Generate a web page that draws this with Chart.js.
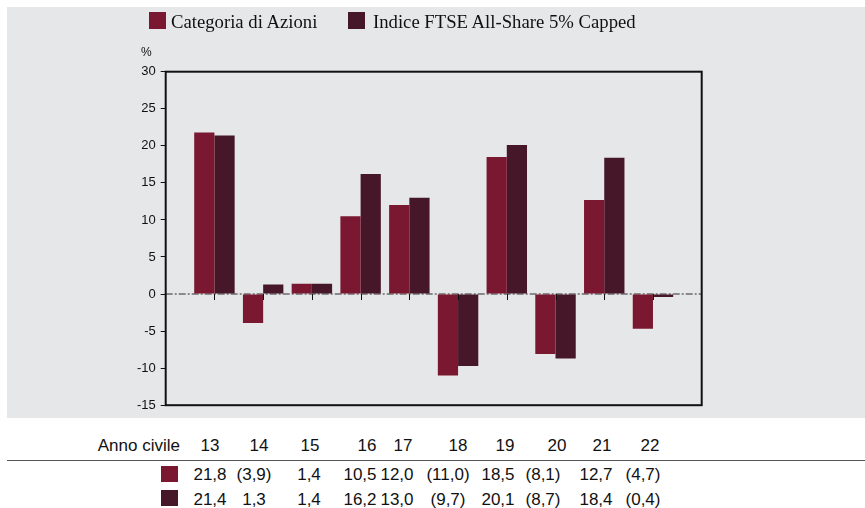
<!DOCTYPE html>
<html>
<head>
<meta charset="utf-8">
<script src="https://cdn.jsdelivr.net/npm/chart.js@4/dist/chart.umd.min.js"></script>
<style>
  body { margin: 0; background: #fff; width: 865px; height: 508px; position: relative; overflow: hidden; font-family: "Liberation Sans", Arial, sans-serif; }
  .panel { position: absolute; left: 7px; top: 7px; width: 858px; height: 411px; background: #e6e7e8; }
  .panel canvas { position: absolute; left: 0; top: 0; }
  .lg { position: absolute; font-family: "Liberation Serif", "Times New Roman", serif; font-size: 18.7px; line-height: 19px; color: #111; white-space: nowrap; }
  .sw { position: absolute; width: 17px; height: 17px; }
  .t { position: absolute; font-size: 17px; line-height: 17px; color: #111; white-space: nowrap; }
  .c { transform: translateX(-50%); }
  .rule { position: absolute; left: 7px; width: 858px; top: 460px; height: 1px; background: #555; }
</style>
</head>
<body>
<div class="panel"><canvas id="Chart" width="858" height="411"></canvas></div>
<div id="legend"></div>
<div class="t" style="left:141px; top:46px; font-size:12px; line-height:12px;">%</div>
<div id="table"></div>
<div class="rule"></div>

<script>
"use strict";

// data
var years = [13, 14, 15, 16, 17, 18, 19, 20, 21, 22];
var categoria = [21.8, -3.9, 1.4, 10.5, 12.0, -11.0, 18.5, -8.1, 12.7, -4.7];
var indice = [21.4, 1.3, 1.4, 16.2, 13.0, -9.7, 20.1, -8.7, 18.4, -0.4];
var seriesNames = ['Categoria di Azioni', 'Indice FTSE All-Share 5% Capped'];
var yTicks = [-15, -10, -5, 0, 5, 10, 15, 20, 25, 30];

var colors = ['#7b1831', '#451729'];

function fmt(v) {
  var s = Math.abs(v).toFixed(1).replace('.', ',');
  return v < 0 ? '(' + s + ')' : s;
}

// legend (html)
(function () {
  var lg = document.getElementById('legend');
  var items = [{ box: 149, text: 171 }, { box: 348, text: 373 }];
  items.forEach(function (it, i) {
    var sw = document.createElement('div');
    sw.className = 'sw';
    sw.style.left = it.box + 'px';
    sw.style.top = '12px';
    sw.style.background = colors[i];
    lg.appendChild(sw);
    var tx = document.createElement('div');
    tx.className = 'lg';
    tx.style.left = it.text + 'px';
    tx.style.top = '12px';
    tx.textContent = seriesNames[i];
    lg.appendChild(tx);
  });
})();

// table under the chart
(function () {
  var tb = document.getElementById('table');
  var headX = [210, 259, 310, 367, 403, 458, 505, 557, 602, 650];
  var valX = [210, 254, 309, 360, 397, 448, 498, 543, 596, 643];
  function add(text, x, y, center) {
    var d = document.createElement('div');
    d.className = 't' + (center ? ' c' : '');
    d.style.left = x + 'px';
    d.style.top = y + 'px';
    d.textContent = text;
    tb.appendChild(d);
    return d;
  }
  var h = add('Anno civile', 0, 437.3, false);
  h.style.left = 'auto';
  h.style.right = (865 - 180) + 'px';
  years.forEach(function (y, i) { add(String(y), headX[i], 437.3, true); });
  [categoria, indice].forEach(function (arr, r) {
    var top = r === 0 ? 465.6 : 490.6;
    var sw = document.createElement('div');
    sw.className = 'sw';
    sw.style.left = '161px';
    sw.style.top = (r === 0 ? 466 : 490) + 'px';
    sw.style.height = '16px';
    sw.style.background = colors[r];
    tb.appendChild(sw);
    arr.forEach(function (v, i) { add(fmt(v), valX[i], top, true); });
  });
})();

// frame, zero line and little ticks on it
var framePlugin = {
  id: 'frame',
  beforeDatasetsDraw: function (chart) {
    var c = chart.ctx, a = chart.chartArea;
    var y0 = chart.scales.y.getPixelForValue(0);
    c.save();
    c.strokeStyle = '#8a8a8a';
    c.lineWidth = 2;
    c.setLineDash([7, 2, 2, 2]);
    c.beginPath();
    c.moveTo(a.left, y0);
    c.lineTo(a.right, y0);
    c.stroke();
    c.restore();
  },
  afterDatasetsDraw: function (chart) {
    var c = chart.ctx, a = chart.chartArea;
    var y0 = chart.scales.y.getPixelForValue(0);
    c.save();
    c.strokeStyle = '#111';
    c.lineWidth = 1;
    years.forEach(function (yr) {
      var x = Math.round(chart.scales.x.getPixelForValue(yr)) + 0.5;
      c.beginPath();
      c.moveTo(x, y0);
      c.lineTo(x, y0 + 6);
      c.stroke();
    });
    c.lineWidth = 2;
    c.strokeRect(a.left, a.top, a.right - a.left, a.bottom - a.top);
    c.restore();
  }
};

var ctx = document.getElementById('Chart').getContext('2d');
var chart = new Chart(ctx, {
  type: 'bar',
  data: {
    datasets: [categoria, indice].map(function (arr, i) {
      return {
        label: seriesNames[i],
        data: arr.map(function (v, j) { return { x: years[j], y: v }; }),
        backgroundColor: colors[i],
        borderWidth: 0,
        categoryPercentage: 0.83,
        barPercentage: 1
      };
    })
  },
  options: {
    responsive: false,
    animation: false,
    layout: { padding: { left: 0, top: 64.7, right: 163.3, bottom: 12.3 } },
    plugins: { legend: { display: false }, tooltip: { enabled: false } },
    scales: {
      x: { type: 'linear', min: 12, max: 23, offset: false, display: false },
      y: {
        min: -15,
        max: 30,
        afterFit: function (s) { s.width = 158.7; },
        afterBuildTicks: function (s) { s.ticks = yTicks.map(function (v) { return { value: v }; }); },
        grid: { drawOnChartArea: false, tickLength: 5, color: '#111', tickWidth: 1 },
        border: { display: false },
        ticks: { padding: 5, color: '#111', font: { family: '"Liberation Sans", Arial', size: 13 } }
      }
    }
  },
  plugins: [framePlugin]
});
</script>
</body>
</html>
